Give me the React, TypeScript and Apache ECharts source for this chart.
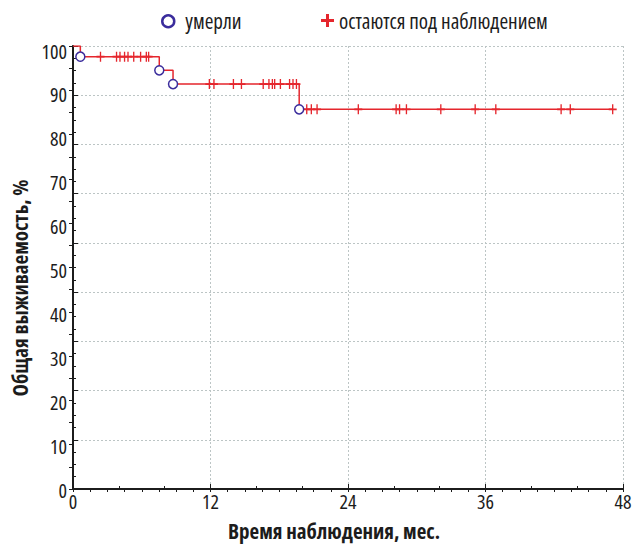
import React, { useEffect, useRef } from "react";
import * as echarts from "echarts";

// Kaplan–Meier curve (time in months, overall survival in %)
const stepMonths = [0, 0.64, 7.53, 8.73, 19.74, 47.1];
const stepSurvival = [100, 97.6, 94.5, 91.4, 85.7, 85.7];

// deaths (circles)
const deathMonths = [0.64, 7.53, 8.73, 19.74];
const deathSurvival = [97.6, 94.5, 91.4, 85.7];

// censored observations (plus marks)
const censoredMonths = [
  2.4, 3.8, 4.1, 4.5, 4.8, 5.3, 5.9, 6.4, 6.6,
  11.9, 12.3, 14.0, 14.7, 16.6, 17.1, 17.4, 17.6, 18.1, 18.9, 19.2, 19.5,
  20.4, 20.8, 21.3, 24.9, 28.2, 28.5, 29.1, 32.1, 35.1, 36.9, 42.6, 43.4, 47.1,
];
const censoredSurvival = [
  97.6, 97.6, 97.6, 97.6, 97.6, 97.6, 97.6, 97.6, 97.6,
  91.4, 91.4, 91.4, 91.4, 91.4, 91.4, 91.4, 91.4, 91.4, 91.4, 91.4, 91.4,
  85.7, 85.7, 85.7, 85.7, 85.7, 85.7, 85.7, 85.7, 85.7, 85.7, 85.7, 85.7, 85.7,
];

const xTicks = [0, 12, 24, 36, 48];
const yTickLabels = [0, 10, 20, 30, 40, 50, 60, 70, 80, 90, 100];

const seriesNames = ["умерли", "остаются под наблюдением"];
const xTitle = "Время наблюдения, мес.";
const yTitle = "Общая выживаемость, %";

const RED = "#e5262d";
const BLUE = "#3a2c9c";
const INK = "#1c1c1c";
const GRID = "#bcc5c5";
// condensed Open Sans (variable width axis)
const NARROW = "'Open Sans';font-stretch:75%";
const LEGEND_NARROW = "'Open Sans';font-stretch:78%";
const TITLE_FONT = "semi-condensed bold 21px 'Open Sans', sans-serif";
const PLUS = "path://M4,0h1.6v4h4v1.6h-4v4h-1.6v-4h-4v-1.6h4z";
const PLUS_BOLD = "path://M4,0h2.4v4h4v2.4h-4v4h-2.4v-4h-4v-2.4h4z";

export default function App() {
  const ref = useRef<HTMLDivElement>(null);

  useEffect(() => {
    if (!ref.current) return;
    const chart = echarts.init(ref.current, undefined, { renderer: "svg" });

    const xMin = xTicks[0];
    const xMax = xTicks[xTicks.length - 1];
    const yMin = yTickLabels[0];
    const yMax = yTickLabels[yTickLabels.length - 1];

    const legendText = { fontSize: 21, color: INK, fontFamily: LEGEND_NARROW };

    chart.setOption({
      animation: false,
      backgroundColor: "#ffffff",
      legend: [
        {
          top: 9,
          left: 156,
          itemWidth: 24,
          itemHeight: 12,
          textStyle: legendText,
          data: [
            {
              name: seriesNames[0],
              icon: "circle",
              itemStyle: { color: "#ffffff", borderColor: BLUE, borderWidth: 2.5 },
            },
          ],
        },
        {
          top: 9,
          left: 316,
          itemWidth: 13,
          itemHeight: 13,
          textStyle: legendText,
          data: [
            {
              name: seriesNames[1],
              icon: PLUS_BOLD,
              itemStyle: { color: RED, borderWidth: 0 },
            },
          ],
        },
      ],
      grid: [
        { left: 73, top: 46, width: 550, height: 443, containLabel: false },
        { left: 73, top: 51, width: 550, height: 439, containLabel: false },
      ],
      xAxis: [
        {
          type: "value",
          gridIndex: 0,
          position: "bottom",
          min: xMin,
          max: xMax,
          interval: 12,
          axisLine: { lineStyle: { color: INK, width: 2 } },
          axisTick: { inside: true, length: 5, lineStyle: { color: INK, width: 1 } },
          minorTick: { show: true, splitNumber: 3, length: 3, lineStyle: { color: INK, width: 1 } },
          axisLabel: { fontSize: 20, color: INK, margin: 7, fontFamily: NARROW },
          splitLine: { show: true, lineStyle: { color: GRID, type: [2, 2], width: 1 } },
        },
        {
          type: "value",
          gridIndex: 0,
          position: "top",
          min: xMin,
          max: xMax,
          interval: 1.5,
          axisLine: { lineStyle: { color: INK, width: 1.5 } },
          axisTick: { inside: true, length: 3, lineStyle: { color: INK, width: 1 } },
          axisLabel: { show: false },
          splitLine: { show: false },
        },
        {
          type: "value",
          gridIndex: 1,
          min: xMin,
          max: xMax,
          show: false,
        },
      ],
      yAxis: [
        {
          type: "value",
          gridIndex: 0,
          position: "left",
          min: yMin,
          max: yMax,
          interval: 100 / 9,
          axisLine: { show: true, lineStyle: { color: INK, width: 2 } },
          axisTick: { show: true, inside: true, length: 5, lineStyle: { color: INK, width: 1 } },
          minorTick: { show: true, splitNumber: 4, length: 3, lineStyle: { color: INK, width: 1 } },
          axisLabel: { show: false },
          splitLine: { show: true, lineStyle: { color: GRID, type: [2, 2], width: 1 } },
        },
        {
          type: "value",
          gridIndex: 0,
          position: "right",
          min: yMin,
          max: yMax,
          interval: 5,
          axisLine: { show: true, lineStyle: { color: INK, width: 1.5 } },
          axisTick: { show: true, inside: true, length: 4, lineStyle: { color: INK, width: 1 } },
          axisLabel: { show: false },
          splitLine: { show: false },
        },
        {
          type: "value",
          gridIndex: 1,
          position: "left",
          min: yMin,
          max: yMax,
          interval: 10,
          axisLine: { show: false },
          axisTick: { show: false },
          axisLabel: { fontSize: 20, color: INK, margin: 6, fontFamily: NARROW },
          splitLine: { show: false },
        },
      ],
      graphic: [
        {
          type: "text",
          x: 334,
          y: 531,
          style: {
            text: xTitle,
            fill: INK,
            font: TITLE_FONT,
            align: "center",
            verticalAlign: "middle",
          },
        },
        {
          type: "text",
          x: 20,
          y: 288,
          rotation: Math.PI / 2,
          style: {
            text: yTitle,
            fill: INK,
            font: TITLE_FONT,
            align: "center",
            verticalAlign: "middle",
          },
        },
      ],
      series: [
        {
          name: "curve",
          type: "line",
          xAxisIndex: 0,
          yAxisIndex: 0,
          step: "end",
          showSymbol: false,
          symbol: "none",
          lineStyle: { color: RED, width: 1.5 },
          data: stepMonths.map((m, i) => [m, stepSurvival[i]]),
          z: 3,
        },
        {
          name: seriesNames[1],
          type: "scatter",
          xAxisIndex: 0,
          yAxisIndex: 0,
          symbol: PLUS,
          symbolSize: [8, 10],
          itemStyle: { color: RED, opacity: 1 },
          data: censoredMonths.map((m, i) => [m, censoredSurvival[i]]),
          z: 4,
        },
        {
          name: seriesNames[0],
          type: "scatter",
          xAxisIndex: 0,
          yAxisIndex: 0,
          symbol: "circle",
          symbolSize: 9,
          itemStyle: { color: "#ffffff", borderColor: BLUE, borderWidth: 1.5, opacity: 1 },
          data: deathMonths.map((m, i) => [m, deathSurvival[i]]),
          z: 5,
        },
      ],
    });

    return () => chart.dispose();
  }, []);

  return <div ref={ref} style={{ width: 634, height: 546, position: "absolute", left: 0, top: 0 }} />;
}
